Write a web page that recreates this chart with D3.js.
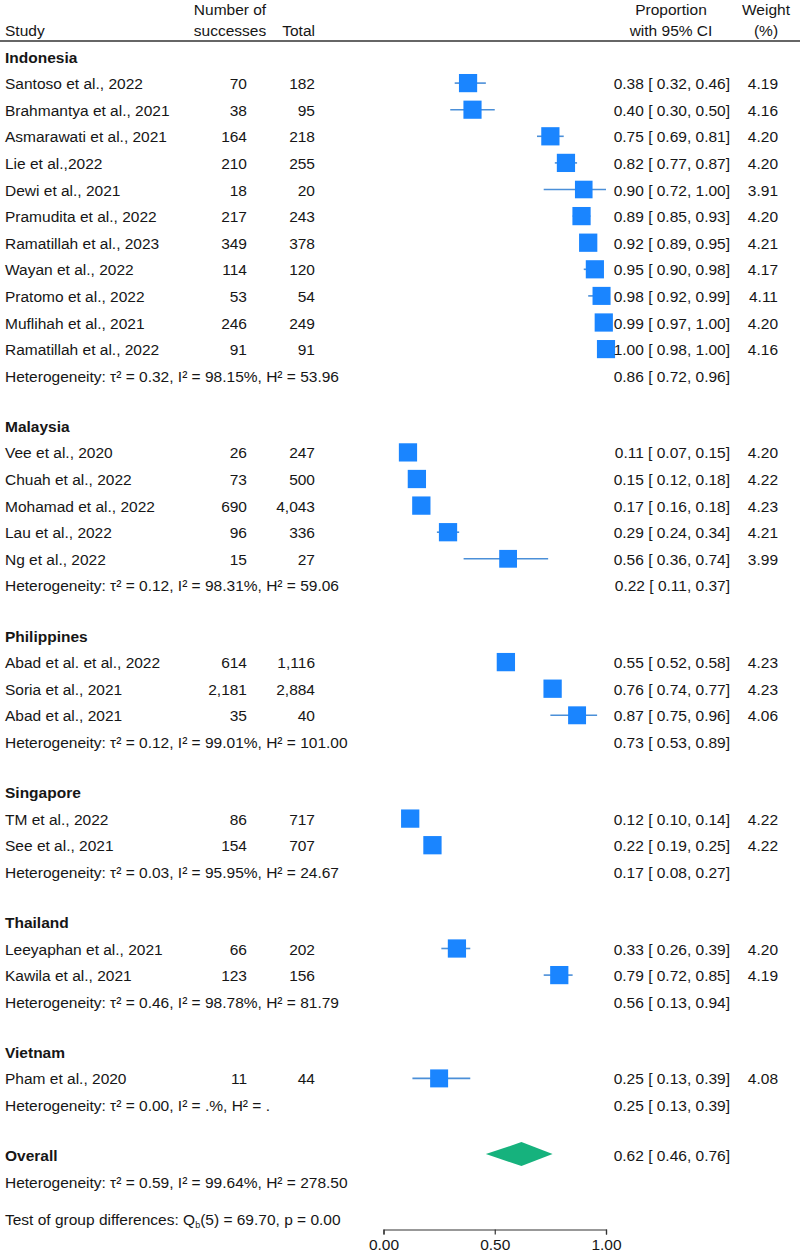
<!DOCTYPE html>
<html><head><meta charset="utf-8">
<script src="https://cdn.jsdelivr.net/npm/d3@7"></script>
<style>
body{margin:0;background:#fff;}
text{font-family:"Liberation Sans", Arial, Helvetica, sans-serif; fill:#161616;}
</style>
</head><body>
<svg id="chart" width="800" height="1253"></svg>
<script>
// ---------------- DATA ----------------
const groupNames = ["Indonesia", "Malaysia", "Philippines", "Singapore", "Thailand", "Vietnam"];
const groupTau2  = ["0.32", "0.12", "0.12", "0.03", "0.46", "0.00"];
const groupI2    = ["98.15", "98.31", "99.01", "95.95", "98.78", "."];
const groupH2    = ["53.96", "59.06", "101.00", "24.67", "81.79", "."];
const groupProp  = [0.86, 0.22, 0.73, 0.17, 0.56, 0.25];
const groupLow   = [0.72, 0.11, 0.53, 0.08, 0.13, 0.13];
const groupHigh  = [0.96, 0.37, 0.89, 0.27, 0.94, 0.39];

const studyNames = [
  "Santoso et al., 2022", "Brahmantya et al., 2021", "Asmarawati et al., 2021", "Lie et al.,2022",
  "Dewi et al., 2021", "Pramudita et al., 2022", "Ramatillah et al., 2023", "Wayan et al., 2022",
  "Pratomo et al., 2022", "Muflihah et al., 2021", "Ramatillah et al., 2022",
  "Vee et al., 2020", "Chuah et al., 2022", "Mohamad et al., 2022", "Lau et al., 2022", "Ng et al., 2022",
  "Abad et al. et al., 2022", "Soria et al., 2021", "Abad et al., 2021",
  "TM et al., 2022", "See et al., 2021",
  "Leeyaphan et al., 2021", "Kawila et al., 2021",
  "Pham et al., 2020"
];
const studyGroup = [0,0,0,0,0,0,0,0,0,0,0, 1,1,1,1,1, 2,2,2, 3,3, 4,4, 5];
const successes  = [70, 38, 164, 210, 18, 217, 349, 114, 53, 246, 91, 26, 73, 690, 96, 15, 614, 2181, 35, 86, 154, 66, 123, 11];
const totals     = [182, 95, 218, 255, 20, 243, 378, 120, 54, 249, 91, 247, 500, 4043, 336, 27, 1116, 2884, 40, 717, 707, 202, 156, 44];
const props      = [0.38, 0.40, 0.75, 0.82, 0.90, 0.89, 0.92, 0.95, 0.98, 0.99, 1.00, 0.11, 0.15, 0.17, 0.29, 0.56, 0.55, 0.76, 0.87, 0.12, 0.22, 0.33, 0.79, 0.25];
const ciLow      = [0.32, 0.30, 0.69, 0.77, 0.72, 0.85, 0.89, 0.90, 0.92, 0.97, 0.98, 0.07, 0.12, 0.16, 0.24, 0.36, 0.52, 0.74, 0.75, 0.10, 0.19, 0.26, 0.72, 0.13];
const ciHigh     = [0.46, 0.50, 0.81, 0.87, 1.00, 0.93, 0.95, 0.98, 0.99, 1.00, 1.00, 0.15, 0.18, 0.18, 0.34, 0.74, 0.58, 0.77, 0.96, 0.14, 0.25, 0.39, 0.85, 0.39];
const weights    = [4.19, 4.16, 4.20, 4.20, 3.91, 4.20, 4.21, 4.17, 4.11, 4.20, 4.16, 4.20, 4.22, 4.23, 4.21, 3.99, 4.23, 4.23, 4.06, 4.22, 4.22, 4.20, 4.19, 4.08];

const overallProp = 0.62, overallLow = 0.46, overallHigh = 0.76;
const overallTau2 = "0.59", overallI2 = "99.64", overallH2 = "278.50";
const testQ = "69.70", testDf = "5", testP = "0.00";
const tickValues = [0, 0.5, 1];

// ---------------- LAYOUT ----------------
const svg = d3.select("#chart");
const FS = 15.5;
const f2 = d3.format(".2f");
const fc = d3.format(",");
const x = d3.scaleLinear().domain([0, 1]).range([383.5, 606]);
const size = d3.scaleSqrt().domain([0, 4.23]).range([0, 18.3]);

const colStudy = 5, colSucc = 247, colTotal = 315, colCI = 730, colW = 778;
const squareColor = "#1a85ff", ciColor = "#4b8fd8", diamondColor = "#16b27d";

function txt(xp, yp, s, anchor, bold) {
  return svg.append("text").attr("x", xp).attr("y", yp).attr("dy", "0.36em")
    .attr("font-size", FS).attr("text-anchor", anchor || "start")
    .attr("font-weight", bold ? "bold" : "normal").text(s);
}
function ciText(p, l, h) { return f2(p) + " [ " + f2(l) + ", " + f2(h) + "]"; }

// header
txt(230, 9.5, "Number of", "middle");
txt(colStudy, 30, "Study");
txt(230, 30, "successes", "middle");
txt(colTotal, 30, "Total", "end");
txt(671, 9.5, "Proportion", "middle");
txt(671, 30, "with 95% CI", "middle");
txt(766, 9.5, "Weight", "middle");
txt(766, 30, "(%)", "middle");
svg.append("line").attr("x1", 0).attr("x2", 800).attr("y1", 41).attr("y2", 41)
  .attr("stroke", "#333").attr("stroke-width", 1.3);

const u = 26.6, gap = 23.5;
let y = 57;
const plot = svg.append("g");
groupNames.forEach((g, gi) => {
  txt(colStudy, y, g, "start", true);
  studyNames.forEach((name, i) => {
    if (studyGroup[i] !== gi) return;
    y += u;
    txt(colStudy, y, name);
    txt(colSucc, y, fc(successes[i]), "end");
    txt(colTotal, y, fc(totals[i]), "end");
    txt(colCI, y, ciText(props[i], ciLow[i], ciHigh[i]), "end");
    txt(colW, y, f2(weights[i]), "end");
    const my = y - 0.5;
    plot.append("line").attr("x1", x(ciLow[i])).attr("x2", x(ciHigh[i]))
      .attr("y1", my).attr("y2", my).attr("stroke", ciColor).attr("stroke-width", 1.6);
    const s = size(weights[i]);
    plot.append("rect").attr("x", x(props[i]) - s / 2).attr("y", my - s / 2)
      .attr("width", s).attr("height", s).attr("fill", squareColor);
  });
  y += u;
  txt(colStudy, y, "Heterogeneity: τ² = " + groupTau2[gi] + ", I² = " + groupI2[gi] + "%, H² = " + groupH2[gi]);
  txt(colCI, y, ciText(groupProp[gi], groupLow[gi], groupHigh[gi]), "end");
  y += u + gap;
});

// overall
txt(colStudy, y, "Overall", "start", true);
txt(colCI, y, ciText(overallProp, overallLow, overallHigh), "end");
const dh = 12;
svg.append("path")
  .attr("d", `M${x(overallLow)},${y - 1.5} L${x(overallProp)},${y - 1.5 - dh} L${x(overallHigh)},${y - 1.5} L${x(overallProp)},${y - 1.5 + dh} Z`)
  .attr("fill", diamondColor);
y += u;
txt(colStudy, y, "Heterogeneity: τ² = " + overallTau2 + ", I² = " + overallI2 + "%, H² = " + overallH2);
y += 37;
const t = txt(colStudy, y, "Test of group differences: Q");
t.append("tspan").attr("font-size", 9).attr("dy", 3).text("b");
t.append("tspan").attr("dy", -3).text("(" + testDf + ") = " + testQ + ", p = " + testP);

// axis
const axis = svg.append("g").attr("transform", "translate(0,1229.5)")
  .call(d3.axisBottom(x).tickValues(tickValues).tickFormat(f2).tickSizeOuter(0).tickSize(5));
axis.select(".domain").attr("stroke", "#333").attr("stroke-width", 1.2);
axis.selectAll(".tick line").attr("stroke", "#333").attr("stroke-width", 1.2);
axis.selectAll(".tick text").attr("font-size", FS).attr("font-family", '"Liberation Sans", Arial, sans-serif')
  .attr("fill", "#161616").attr("y", 9);
</script>
</body></html>
